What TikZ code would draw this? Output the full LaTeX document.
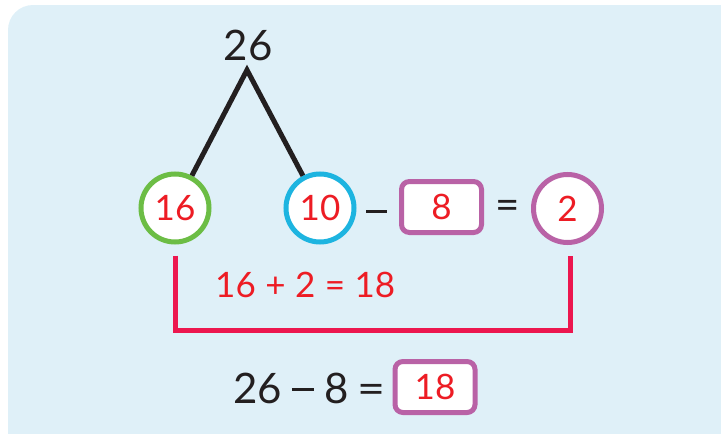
\documentclass[tikz,border=0pt]{standalone}
\usepackage{fontspec}
\setmainfont{Lato}
\definecolor{bg}{HTML}{DFF0F8}
\definecolor{ink}{HTML}{231F20}
\definecolor{numred}{HTML}{ED1C24}
\definecolor{brk}{HTML}{EC174F}
\definecolor{cgreen}{HTML}{6CBD45}
\definecolor{cblue}{HTML}{1DB4E0}
\definecolor{cpurple}{HTML}{B962A6}
\tikzset{
  ring/.style={circle, draw=#1, line width=5pt, fill=white, minimum size=68pt, inner sep=0pt,
    text=numred, font=\fontsize{35}{35}\selectfont},
  answerbox/.style={rectangle, rounded corners=8pt, draw=cpurple, line width=5pt, fill=white,
    minimum width=80pt, minimum height=51pt, inner sep=0pt, text=numred, font=\fontsize{35}{35}\selectfont},
  bigtext/.style={inner sep=0pt, anchor=base, text=ink, font=\fontsize{42}{42}\selectfont},
  redtext/.style={inner sep=0pt, anchor=base, text=numred, font=\fontsize{35}{35}\selectfont},
  leg/.style={draw=ink, line width=5pt, line join=miter},
  bracket/.style={draw=brk, line width=5pt, line join=miter},
}
\begin{document}
\begin{tikzpicture}[x=1pt, y=-1pt]
\useasboundingbox (0,0) rectangle (721,434);
\clip (0,0) rectangle (721,434);
\fill[bg, rounded corners=25pt] (8,5) rectangle (780,480);

\node[bigtext] (top) at (248,60) {26};
\coordinate (apex) at (247,70);

\node[ring=cgreen] (c16) at (175,208) {16};
\node[ring=cblue] (c10) at (320,208) {10};
\node[inner sep=0pt, text=ink] (minus) at (376.5,211.5) {\rule{21pt}{2.7pt}};
\node[answerbox] (b8) at (441.5,207) {8};
\node[bigtext, anchor=center] (eq) at (507.5,210) {=};
\node[ring=cpurple] (c2) at (567.5,208.5) {2};

\draw[leg] (c16) -- (apex) -- (c10);

\draw[bracket] ([yshift=-11pt]c16.south) -- ++(0,75) -| ([yshift=-11pt, xshift=3pt]c2.south);

\node[redtext, anchor=base west] (sum) at (215,297) {16\hspace{9.5pt}+\hspace{9.5pt}2\hspace{9.5pt}=\hspace{9.5pt}18};

\node[bigtext, anchor=base west] (final) at (233,403) {26\hspace{10pt}\rule[12pt]{22pt}{2.7pt}\hspace{11pt}8\hspace{8pt}\scalebox{1.15}[1]{=}};
\node[answerbox] (b18) at (435,387) {18};
\end{tikzpicture}
\end{document}
